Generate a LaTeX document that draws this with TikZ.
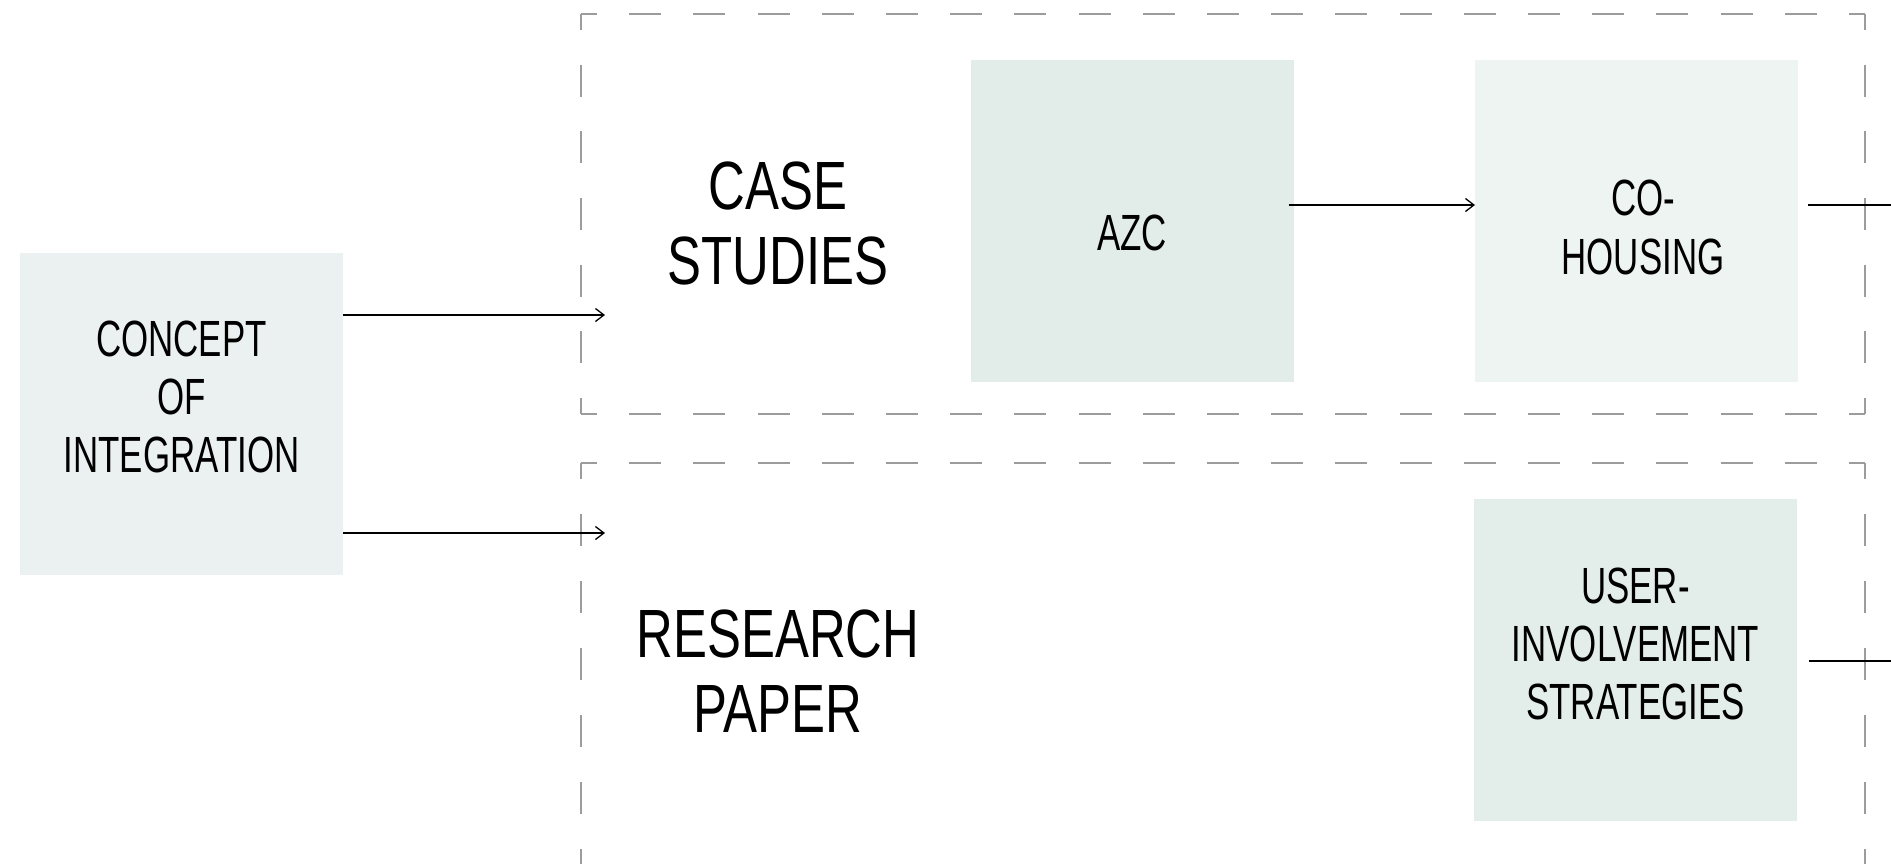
\documentclass[tikz,border=0pt]{standalone}
\usepackage{fontspec}
\setmainfont{Liberation Sans}
\newfontfamily\boxfont{Liberation Sans}[FakeStretch=0.685]
\newfontfamily\headfont{Liberation Sans}[FakeStretch=0.745]
\usetikzlibrary{arrows.meta,calc}
\definecolor{dashgray}{HTML}{9C9C9C}
\definecolor{cConcept}{HTML}{EBF1F0}
\definecolor{cAzc}{HTML}{E2ECE8}
\definecolor{cCoh}{HTML}{EDF4F2}
\definecolor{cUser}{HTML}{E3EDE9}
\tikzset{
  sqbox/.style={inner sep=0pt, outer sep=0pt, minimum width=323pt, minimum height=322pt, draw=none},
  boxtxt/.style={inner sep=0pt, align=center, font=\boxfont\fontsize{50.9}{58.3}\selectfont},
  headtxt/.style={inner sep=0pt, align=center, font=\headfont\fontsize{68.3}{75}\selectfont},
  framebox/.style={inner sep=0pt, outer sep=0pt, draw=none, anchor=north west},
  dside/.style={draw=dashgray, line width=1.6pt, dash pattern=on 32pt off #1, dash phase=16pt},
  arr/.style={draw=black, line width=1.3pt, -{Straight Barb[length=8.5pt,width=13pt]}},
  plain/.style={draw=black, line width=1.3pt},
}
\begin{document}
\begin{tikzpicture}[x=1pt, y=-1pt]
\useasboundingbox (0,0) rectangle (1891,863);
\fill[white] (0,0) rectangle (1891,863);

% dashed frames
\node[framebox, minimum width=1284pt, minimum height=400pt] (cs) at (581,14) {};
\node[framebox, minimum width=1284pt, minimum height=402pt] (rp) at (581,463) {};
\foreach \f/\g in {cs/34.67pt, rp/35pt}{
  \draw[dside=32.2pt] (\f.north west) -- (\f.north east);
  \draw[dside=32.2pt] (\f.south west) -- (\f.south east);
  \draw[dside=\g] (\f.north west) -- (\f.south west);
  \draw[dside=\g] (\f.north east) -- (\f.south east);
}

% boxes
\node[sqbox, fill=cConcept] (concept) at (181.5,414) {};
\node[sqbox, fill=cAzc] (azc) at (1132,221) {};
\node[sqbox, fill=cCoh] (coh) at (1636.5,221) {};
\node[sqbox, fill=cUser] (user) at (1635.5,660) {};

% box texts
\node[boxtxt] (tconcept) at (181.5,397) {CONCEPT\\OF\\INTEGRATION};
\node[boxtxt] (tazc) at (1132,233) {AZC};
\node[boxtxt] (tcoh) at (1643,227.5) {CO-\\HOUSING};
\node[boxtxt] (tuser) at (1635.5,644) {USER-\\INVOLVEMENT\\STRATEGIES};

% headings
\node[headtxt] (tcs) at (778,223) {CASE\\STUDIES};
\node[headtxt] (trp) at (778,671) {RESEARCH\\PAPER};

% connectors
\coordinate (in1) at (605,315);
\coordinate (in2) at (605,533);
\coordinate (out1) at (1895,205);
\coordinate (out2) at (1895,661);
\draw[arr] (concept.east |- in1) -- (in1);
\draw[arr] (concept.east |- in2) -- (in2);
\draw[arr] ([xshift=-5pt,yshift=16pt]azc.east) -- ([yshift=16pt]coh.west);
\draw[plain] ([xshift=10pt,yshift=16pt]coh.east) -- (out1);
\draw[plain] ([xshift=12pt,yshift=-1pt]user.east) -- (out2);
\end{tikzpicture}
\end{document}
